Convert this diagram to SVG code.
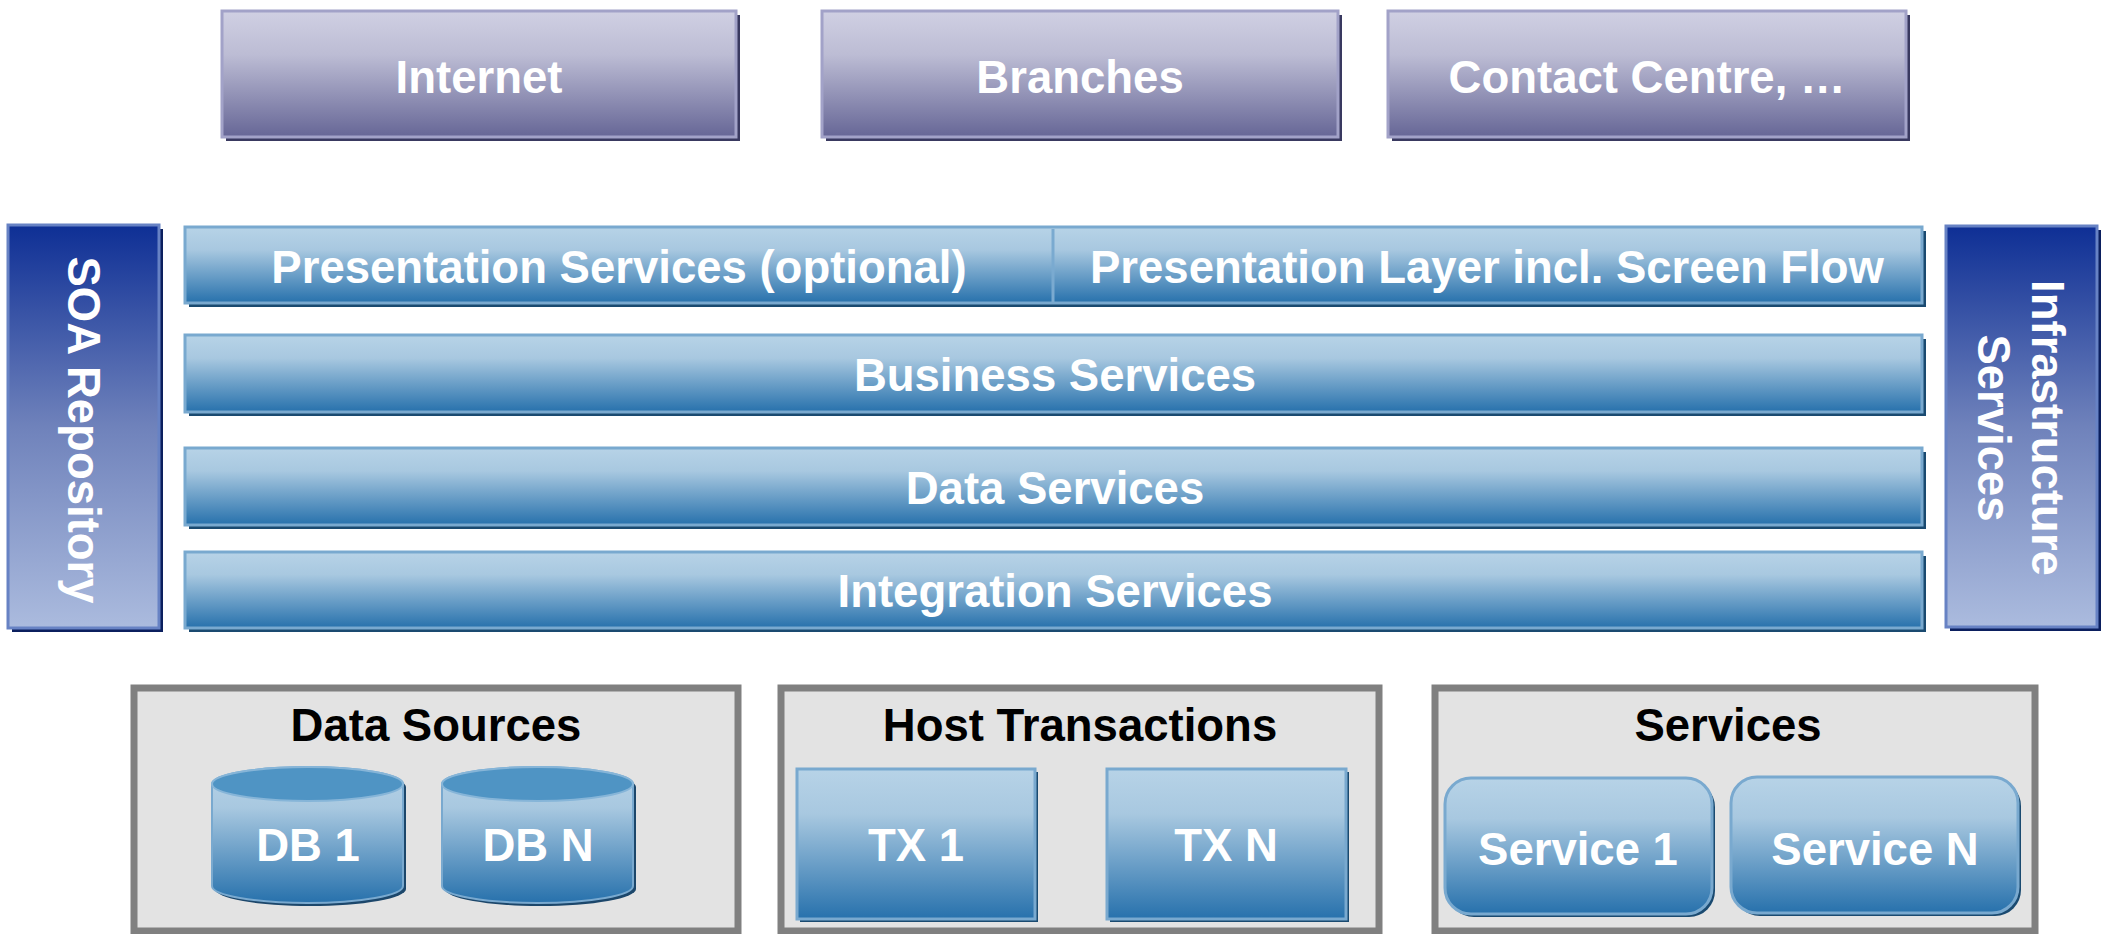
<svg xmlns="http://www.w3.org/2000/svg" width="2107" height="934" viewBox="0 0 2107 934">
<defs>
<linearGradient id="gTop" x1="0" y1="0" x2="0" y2="1">
<stop offset="0" stop-color="#d0d0e3"/><stop offset="0.35" stop-color="#bcbcd4"/><stop offset="1" stop-color="#666696"/>
</linearGradient>
<linearGradient id="gBlue" x1="0" y1="0" x2="0" y2="1">
<stop offset="0" stop-color="#b7d3e7"/><stop offset="0.3" stop-color="#a8c8e0"/><stop offset="1" stop-color="#2771ac"/>
</linearGradient>
<linearGradient id="gSide" x1="0" y1="0" x2="0" y2="1">
<stop offset="0" stop-color="#0e2f95"/><stop offset="0.5" stop-color="#6f82bb"/><stop offset="1" stop-color="#abbbde"/>
</linearGradient>
<style>
text{font-family:"Liberation Sans",Arial,Helvetica,sans-serif;font-weight:bold;font-size:45.5px;text-anchor:middle}
.w{fill:#ffffff}
.k{fill:#000000}
.topbox{fill:url(#gTop);stroke:#a2a2c8;stroke-width:3}
.topsh{fill:#393960}
.row{fill:url(#gBlue);stroke:#79a9cf;stroke-width:3}
.rowsh{fill:#1a4a70}
.side{fill:url(#gSide);stroke:#6782c4;stroke-width:3}
.sidesh{fill:#0b1f5e}
.cont{fill:#e3e3e3;stroke:#808080;stroke-width:7}
.dbtop{fill:#4f94c4;stroke:#86b5d8;stroke-width:2}
</style>
</defs>
<rect width="2107" height="934" fill="#ffffff"/>

<g id="internet">
<rect class="topsh" x="226" y="15" width="514" height="126"/>
<rect class="topbox" x="222" y="11" width="514" height="126"/>
<text class="w" x="479" y="93">Internet</text>
</g>
<g id="branches">
<rect class="topsh" x="826" y="15" width="516" height="126"/>
<rect class="topbox" x="822" y="11" width="516" height="126"/>
<text class="w" x="1080" y="93">Branches</text>
</g>
<g id="contact-centre">
<rect class="topsh" x="1392" y="15" width="518" height="126"/>
<rect class="topbox" x="1388" y="11" width="518" height="126"/>
<text class="w" x="1647" y="93">Contact Centre, …</text>
</g>

<g id="soa-repository">
<rect class="sidesh" x="12" y="229" width="151" height="403"/>
<rect class="side" x="8" y="225" width="151" height="403"/>
<text class="w" transform="translate(68,430) rotate(90)">SOA Repository</text>
</g>
<g id="infrastructure-services">
<rect class="sidesh" x="1950" y="230" width="151" height="401"/>
<rect class="side" x="1946" y="226" width="151" height="401"/>
<text class="w" transform="translate(2032,428) rotate(90)"><tspan x="0" y="0">Infrastructure</tspan><tspan x="0" y="54">Services</tspan></text>
</g>

<g id="presentation">
<rect class="rowsh" x="189" y="231" width="1737" height="76"/>
<rect class="row" x="185" y="227" width="1737" height="76"/>
<line x1="1053" y1="229" x2="1053" y2="302" stroke="#7aaad0" stroke-width="3"/>
<text class="w" x="619" y="283">Presentation Services (optional)</text>
<text class="w" x="1487" y="283">Presentation Layer incl. Screen Flow</text>
</g>
<g id="business-services">
<rect class="rowsh" x="189" y="339" width="1737" height="77"/>
<rect class="row" x="185" y="335" width="1737" height="77"/>
<text class="w" x="1055" y="391">Business Services</text>
</g>
<g id="data-services">
<rect class="rowsh" x="189" y="452" width="1737" height="77"/>
<rect class="row" x="185" y="448" width="1737" height="77"/>
<text class="w" x="1055" y="504">Data Services</text>
</g>
<g id="integration-services">
<rect class="rowsh" x="189" y="556" width="1737" height="76"/>
<rect class="row" x="185" y="552" width="1737" height="76"/>
<text class="w" x="1055" y="607">Integration Services</text>
</g>

<g id="data-sources">
<rect class="cont" x="134" y="688" width="604" height="243"/>
<text class="k" x="436" y="741">Data Sources</text>
</g>
<g id="db1">
<path d="M215,787 V889 A95.5 17 0 0 0 406 889 V787 A95.5 17 0 0 0 215 787 Z" fill="#1c476b"/>
<path d="M212,784 V886 A95.5 17 0 0 0 403 886 V784 A95.5 17 0 0 0 212 784 Z" fill="url(#gBlue)" stroke="#79a9cf" stroke-width="2"/>
<ellipse class="dbtop" cx="307.5" cy="784" rx="95.5" ry="17"/>
<text class="w" x="308" y="861">DB 1</text>
</g>
<g id="dbn">
<path d="M445,787 V889 A95.5 17 0 0 0 636 889 V787 A95.5 17 0 0 0 445 787 Z" fill="#1c476b"/>
<path d="M442,784 V886 A95.5 17 0 0 0 633 886 V784 A95.5 17 0 0 0 442 784 Z" fill="url(#gBlue)" stroke="#79a9cf" stroke-width="2"/>
<ellipse class="dbtop" cx="537.5" cy="784" rx="95.5" ry="17"/>
<text class="w" x="538" y="861">DB N</text>
</g>

<g id="host-transactions">
<rect class="cont" x="781" y="688" width="598" height="243"/>
<text class="k" x="1080" y="741">Host Transactions</text>
</g>
<g id="tx1">
<rect class="rowsh" x="800" y="772" width="238" height="150"/>
<rect class="row" x="797" y="769" width="238" height="150"/>
<text class="w" x="916" y="861">TX 1</text>
</g>
<g id="txn">
<rect class="rowsh" x="1110" y="772" width="239" height="150"/>
<rect class="row" x="1107" y="769" width="239" height="150"/>
<text class="w" x="1226" y="861">TX N</text>
</g>

<g id="services">
<rect class="cont" x="1435" y="688" width="600" height="243"/>
<text class="k" x="1728" y="741">Services</text>
</g>
<g id="service1">
<rect class="rowsh" x="1448" y="781" width="267" height="136" rx="26"/>
<rect class="row" x="1445" y="778" width="267" height="136" rx="26"/>
<text class="w" x="1578" y="865">Service 1</text>
</g>
<g id="servicen">
<rect class="rowsh" x="1734" y="780" width="287" height="136" rx="26"/>
<rect class="row" x="1731" y="777" width="287" height="136" rx="26"/>
<text class="w" x="1875" y="865">Service N</text>
</g>

<g id="connectors"></g>
</svg>
